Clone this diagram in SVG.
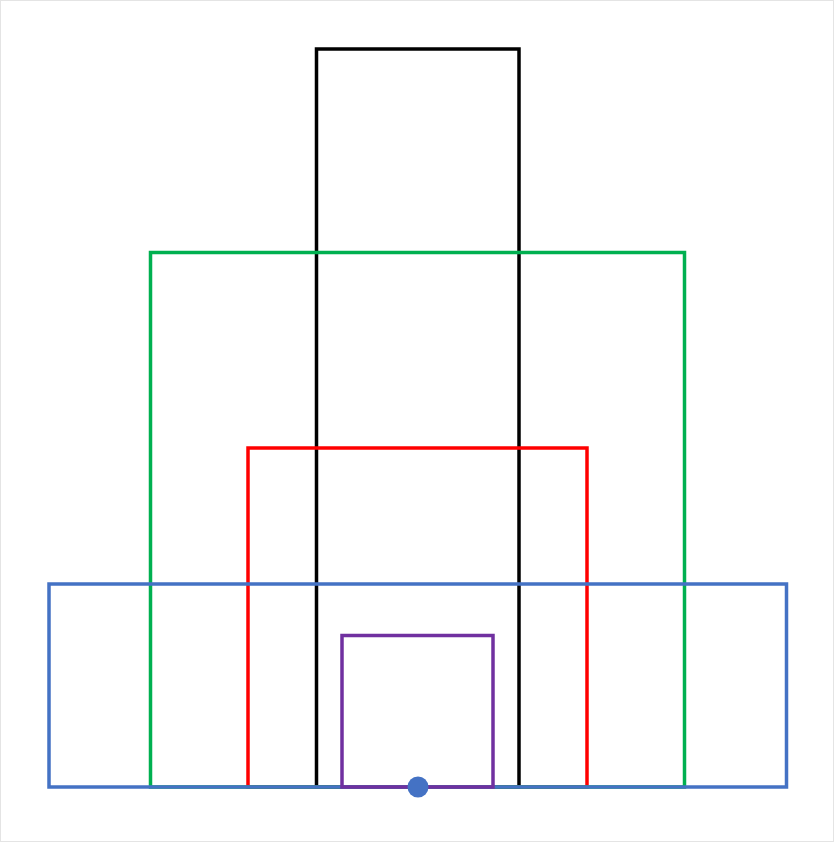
<svg xmlns="http://www.w3.org/2000/svg" width="834" height="842" viewBox="0 0 834 842">
<style>
.r{fill:none;stroke-width:3.5;stroke-linejoin:miter}
</style>
<rect x="0" y="0" width="834" height="842" fill="#ffffff"/>
<rect x="0.5" y="0.5" width="833" height="841" fill="none" stroke="#e4e4e4" stroke-width="1"/>
<g id="black"><rect class="r" x="316.5" y="49" width="202.5" height="738" stroke="#000000"/></g>
<g id="red"><rect class="r" x="248" y="448" width="339" height="339" stroke="#FF0000"/></g>
<g id="green"><rect class="r" x="150.5" y="252.5" width="534" height="534.5" stroke="#00B050"/></g>
<g id="blue"><rect class="r" x="49" y="584" width="737.5" height="203" stroke="#4472C4"/></g>
<g id="purple"><rect class="r" x="342" y="635.5" width="151" height="151.5" stroke="#7030A0"/></g>
<g id="dot"><circle cx="418" cy="787" r="10.5" fill="#4472C4"/></g>
<g id="connectors"></g>
</svg>
